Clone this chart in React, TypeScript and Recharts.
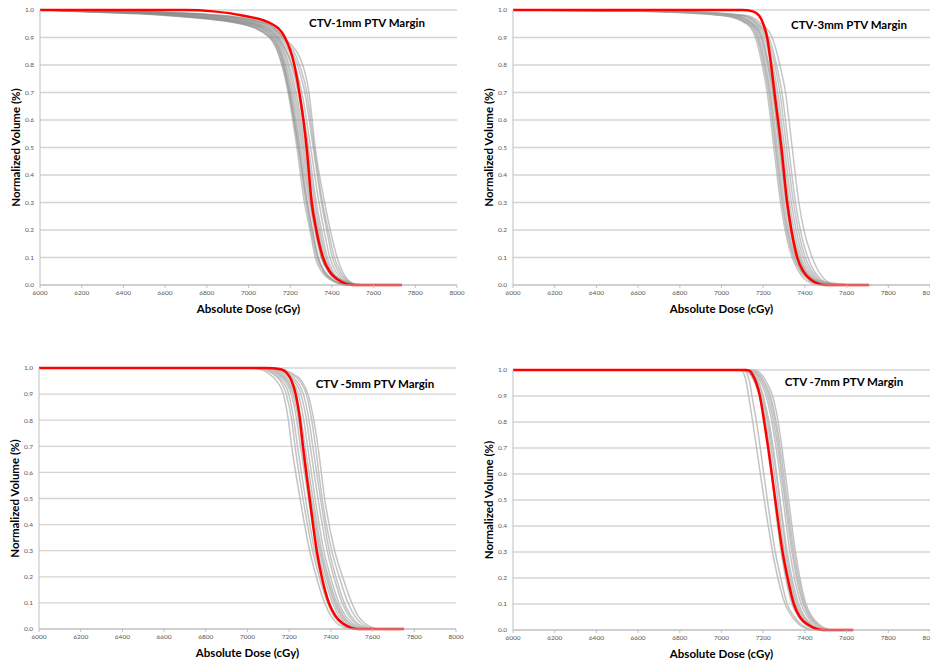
import { LineChart, Line, XAxis, YAxis, CartesianGrid } from "recharts";

// volume level of every point in a curve; each curve lists the dose (cGy) where it reaches that level
const VOLUME_LEVELS = [1, 1, 0.995, 0.98, 0.95, 0.9, 0.8, 0.7, 0.5, 0.3, 0.2, 0.1, 0.05, 0.02, 0.005, 0, 0];

const DOSE_TICKS = [6000, 6200, 6400, 6600, 6800, 7000, 7200, 7400, 7600, 7800, 8000];
const VOLUME_TICKS = [0, 0.1, 0.2, 0.3, 0.4, 0.5, 0.6, 0.7, 0.8, 0.9, 1.0];

const PANEL_TITLES = ["CTV-1mm PTV Margin", "CTV-3mm PTV Margin", "CTV -5mm PTV Margin", "CTV -7mm PTV Margin"];

// CTV-1mm
const ctv1Red = [6000, 6700, 6830, 6970, 7110, 7175, 7220, 7244, 7279, 7303, 7325, 7357, 7388, 7428, 7465, 7500, 7736];
const ctv1Gray = [
  [6000, 6010, 6150, 6600, 6960, 7100, 7160, 7190, 7232, 7268, 7295, 7320, 7350, 7390, 7430, 7470, 7520],
  [6000, 6010, 6200, 6650, 6990, 7115, 7170, 7200, 7245, 7283, 7308, 7335, 7365, 7405, 7445, 7480, 7530],
  [6000, 6010, 6250, 6700, 7010, 7125, 7180, 7212, 7258, 7298, 7322, 7350, 7380, 7418, 7455, 7490, 7540],
  [6000, 6010, 6300, 6750, 7030, 7135, 7195, 7228, 7272, 7310, 7335, 7362, 7392, 7428, 7465, 7500, 7550],
  [6000, 6010, 6350, 6800, 7050, 7145, 7210, 7245, 7288, 7325, 7350, 7378, 7405, 7440, 7475, 7505, 7560],
  [6000, 6010, 6400, 6850, 7080, 7160, 7235, 7270, 7310, 7350, 7375, 7402, 7430, 7460, 7490, 7515, 7570],
  [6000, 6010, 6450, 6880, 7095, 7170, 7260, 7290, 7320, 7365, 7392, 7425, 7450, 7475, 7500, 7525, 7580],
  [6000, 6010, 6220, 6680, 7000, 7118, 7175, 7205, 7250, 7292, 7318, 7348, 7385, 7440, 7510, 7560, 7600],
  [6000, 6010, 6180, 6640, 6975, 7108, 7168, 7196, 7240, 7280, 7305, 7333, 7362, 7400, 7440, 7475, 7525],
  [6000, 6010, 6320, 6780, 7040, 7140, 7205, 7238, 7280, 7318, 7342, 7370, 7398, 7432, 7468, 7500, 7555],
  [6000, 6010, 6380, 6820, 7065, 7152, 7222, 7256, 7298, 7338, 7362, 7390, 7418, 7450, 7482, 7510, 7565],
  [6000, 6010, 6270, 6720, 7020, 7130, 7188, 7220, 7265, 7304, 7330, 7358, 7388, 7425, 7460, 7495, 7545],
  [6000, 6010, 6160, 6620, 6965, 7104, 7163, 7194, 7238, 7276, 7300, 7328, 7358, 7398, 7438, 7472, 7522],
  [6000, 6010, 6420, 6860, 7085, 7165, 7245, 7280, 7315, 7355, 7382, 7412, 7440, 7468, 7495, 7520, 7575],
];

// CTV-3mm
const ctv3Red = [6000, 7100, 7150, 7180, 7200, 7219, 7238, 7254, 7287, 7315, 7335, 7363, 7392, 7427, 7465, 7495, 7707];
const ctv3Gray = [
  [6000, 6010, 6600, 7000, 7120, 7163, 7195, 7219, 7251, 7283, 7305, 7339, 7370, 7400, 7440, 7480, 7530],
  [6000, 6010, 6650, 7030, 7135, 7180, 7212, 7236, 7268, 7300, 7322, 7356, 7388, 7420, 7460, 7495, 7545],
  [6000, 6010, 6700, 7060, 7150, 7196, 7228, 7252, 7285, 7318, 7340, 7374, 7405, 7440, 7478, 7510, 7560],
  [6000, 6010, 6750, 7090, 7165, 7212, 7246, 7270, 7302, 7335, 7358, 7392, 7424, 7460, 7495, 7525, 7575],
  [6000, 6010, 6800, 7120, 7190, 7243, 7280, 7307, 7339, 7371, 7395, 7435, 7465, 7495, 7525, 7550, 7590],
  [6000, 6010, 6620, 7010, 7125, 7170, 7202, 7226, 7258, 7290, 7312, 7346, 7380, 7430, 7520, 7600, 7700],
  [6000, 6010, 6680, 7045, 7142, 7188, 7220, 7244, 7276, 7308, 7330, 7365, 7398, 7450, 7560, 7640, 7720],
  [6000, 6010, 6720, 7070, 7155, 7204, 7238, 7262, 7294, 7326, 7348, 7382, 7414, 7450, 7486, 7516, 7565],
  [6000, 6010, 6780, 7105, 7178, 7228, 7264, 7290, 7322, 7355, 7378, 7414, 7445, 7478, 7512, 7540, 7585],
  [6000, 6010, 6640, 7020, 7130, 7175, 7207, 7231, 7262, 7294, 7316, 7350, 7382, 7414, 7452, 7488, 7538],
  [6000, 6010, 6760, 7100, 7170, 7220, 7256, 7280, 7312, 7345, 7368, 7402, 7434, 7468, 7502, 7532, 7580],
  [6000, 6010, 6700, 7055, 7146, 7192, 7224, 7248, 7280, 7312, 7335, 7370, 7402, 7436, 7474, 7506, 7555],
];

// CTV-5mm
const ctv5Red = [6000, 7090, 7160, 7190, 7212, 7231, 7252, 7266, 7298, 7332, 7356, 7390, 7422, 7460, 7495, 7530, 7751];
const ctv5Gray = [
  [6000, 7000, 7060, 7100, 7140, 7172, 7196, 7212, 7252, 7298, 7330, 7370, 7400, 7432, 7470, 7500, 7560],
  [6000, 7012, 7078, 7118, 7158, 7186, 7212, 7228, 7266, 7312, 7344, 7384, 7414, 7448, 7485, 7514, 7572],
  [6000, 7020, 7085, 7125, 7168, 7198, 7222, 7240, 7278, 7322, 7354, 7394, 7424, 7458, 7494, 7524, 7580],
  [6000, 7034, 7098, 7138, 7180, 7210, 7236, 7254, 7292, 7336, 7368, 7408, 7438, 7472, 7508, 7538, 7592],
  [6000, 7040, 7105, 7145, 7188, 7218, 7245, 7263, 7301, 7345, 7377, 7417, 7448, 7482, 7518, 7548, 7600],
  [6000, 7052, 7118, 7158, 7200, 7232, 7258, 7276, 7314, 7356, 7388, 7428, 7460, 7494, 7530, 7560, 7612],
  [6000, 7062, 7126, 7168, 7212, 7244, 7270, 7288, 7324, 7366, 7398, 7438, 7470, 7506, 7542, 7572, 7625],
  [6000, 7072, 7136, 7180, 7224, 7256, 7283, 7301, 7338, 7382, 7414, 7454, 7486, 7520, 7555, 7585, 7640],
  [6000, 7080, 7145, 7190, 7235, 7268, 7295, 7313, 7350, 7392, 7424, 7464, 7496, 7530, 7566, 7596, 7650],
  [6000, 7092, 7158, 7202, 7250, 7282, 7308, 7326, 7358, 7404, 7440, 7482, 7514, 7548, 7582, 7612, 7662],
  [6000, 7100, 7165, 7212, 7260, 7290, 7318, 7338, 7370, 7418, 7456, 7500, 7530, 7565, 7600, 7630, 7680],
  [6000, 7045, 7110, 7150, 7192, 7224, 7250, 7268, 7306, 7350, 7382, 7422, 7454, 7490, 7528, 7558, 7610],
];

// CTV-7mm
const ctv7Red = [6000, 7120, 7138, 7150, 7167, 7184, 7205, 7224, 7258, 7293, 7317, 7347, 7376, 7416, 7455, 7490, 7632];
const ctv7Gray = [
  [6000, 7080, 7100, 7110, 7120, 7130, 7150, 7168, 7205, 7245, 7270, 7305, 7340, 7375, 7410, 7440, 7480],
  [6000, 7095, 7115, 7125, 7136, 7146, 7168, 7186, 7220, 7258, 7284, 7315, 7350, 7385, 7418, 7448, 7490],
  [6000, 7110, 7140, 7160, 7180, 7200, 7225, 7245, 7280, 7315, 7338, 7370, 7400, 7436, 7470, 7498, 7540],
  [6000, 7130, 7155, 7175, 7198, 7222, 7250, 7270, 7304, 7338, 7360, 7392, 7422, 7458, 7490, 7518, 7560],
  [6000, 7100, 7130, 7150, 7170, 7192, 7220, 7238, 7270, 7302, 7325, 7356, 7388, 7424, 7460, 7488, 7530],
  [6000, 7150, 7175, 7195, 7218, 7245, 7272, 7290, 7322, 7355, 7376, 7405, 7435, 7470, 7502, 7528, 7570],
  [6000, 7095, 7125, 7145, 7165, 7186, 7212, 7230, 7258, 7290, 7312, 7344, 7376, 7412, 7448, 7476, 7520],
  [6000, 7120, 7148, 7168, 7190, 7214, 7242, 7262, 7296, 7328, 7350, 7382, 7414, 7450, 7485, 7512, 7552],
  [6000, 7140, 7165, 7185, 7208, 7235, 7262, 7282, 7314, 7348, 7370, 7400, 7430, 7465, 7498, 7524, 7565],
  [6000, 7105, 7135, 7155, 7176, 7198, 7228, 7248, 7280, 7310, 7332, 7362, 7395, 7430, 7465, 7494, 7535],
  [6000, 7090, 7120, 7140, 7160, 7182, 7208, 7226, 7254, 7286, 7308, 7338, 7370, 7406, 7442, 7470, 7515],
  [6000, 7135, 7160, 7180, 7204, 7230, 7258, 7276, 7308, 7342, 7364, 7396, 7426, 7462, 7496, 7522, 7562],
];

const FONT = "Lato, 'Open Sans', sans-serif";

const toPoints = (doses: number[]) =>
  doses.map((dose, i) => ({ dose, volume: VOLUME_LEVELS[i] }));

interface PanelProps {
  title: string;
  red: number[];
  gray: number[][];
  grayColor: string;
  grayOpacity: number;
  plotLeft: number;
  plotTop: number;
  plotWidth: number;
  plotHeight: number;
  titleX: number;
  titleY: number;
}

function DvhPanel({
  title, red, gray, grayColor, grayOpacity,
  plotLeft, plotTop, plotWidth, plotHeight, titleX, titleY,
}: PanelProps) {
  const left = plotLeft - 40;
  const top = plotTop - 10;
  const width = plotWidth + 54;
  const height = plotHeight + 50;

  return (
    <div style={{ position: "absolute", left, top, width, height }}>
      <LineChart
        width={width}
        height={height}
        margin={{ top: 10, right: 14, left: 10, bottom: 10 }}
      >
        <CartesianGrid vertical={false} stroke="#d4d4d4" strokeWidth={1.3} />
        <XAxis
          type="number"
          dataKey="dose"
          domain={[6000, 8000]}
          ticks={DOSE_TICKS}
          allowDataOverflow
          height={30}
          tickSize={3}
          tickMargin={2}
          stroke="#bfbfbf"
          tick={{ fontSize: 6.5, fill: "#595959", fontFamily: FONT }}
          label={{
            value: "Absolute Dose (cGy)",
            position: "insideBottom",
            offset: 2,
            style: { fontSize: 11.5, fontWeight: 700, fill: "#000", fontFamily: FONT },
          }}
        />
        <YAxis
          type="number"
          dataKey="volume"
          domain={[0, 1]}
          ticks={VOLUME_TICKS}
          width={30}
          tickLine={false}
          tickSize={4}
          tickMargin={2}
          stroke="#bfbfbf"
          tickFormatter={(v: number) => v.toFixed(1)}
          tick={{ fontSize: 6.5, fill: "#595959", fontFamily: FONT }}
          label={{
            value: "Normalized Volume (%)",
            angle: -90,
            position: "insideLeft",
            offset: 6,
            style: { fontSize: 11.5, fontWeight: 700, fill: "#000", fontFamily: FONT, textAnchor: "middle" },
          }}
        />
        {gray.map((doses, i) => (
          <Line
            key={i}
            data={toPoints(doses)}
            dataKey="volume"
            type="monotone"
            stroke={grayColor}
            strokeOpacity={grayOpacity}
            strokeWidth={1.5}
            dot={false}
            activeDot={false}
            isAnimationActive={false}
          />
        ))}
        <Line
          data={toPoints(red)}
          dataKey="volume"
          type="monotone"
          stroke="#ff0000"
          strokeWidth={2.5}
          dot={false}
          activeDot={false}
          isAnimationActive={false}
        />
      </LineChart>
      <div
        style={{
          position: "absolute",
          left: titleX - left,
          top: titleY - top,
          transform: "translate(-50%, -50%)",
          whiteSpace: "nowrap",
          fontFamily: FONT,
          fontWeight: 700,
          fontSize: 11.5,
          color: "#000",
        }}
      >
        {title}
      </div>
    </div>
  );
}

export default function App() {
  return (
    <div
      style={{
        position: "fixed",
        left: 0,
        top: 0,
        width: 930,
        height: 664,
        overflow: "hidden",
        background: "#fff",
      }}
    >
      <DvhPanel title={PANEL_TITLES[0]} red={ctv1Red} gray={ctv1Gray} grayColor="#8c8c8c" grayOpacity={0.5}
        plotLeft={40} plotTop={10} plotWidth={417} plotHeight={275} titleX={367} titleY={22} />
      <DvhPanel title={PANEL_TITLES[1]} red={ctv3Red} gray={ctv3Gray} grayColor="#a0a0a0" grayOpacity={0.6}
        plotLeft={513} plotTop={10} plotWidth={417} plotHeight={275} titleX={849} titleY={24} />
      <DvhPanel title={PANEL_TITLES[2]} red={ctv5Red} gray={ctv5Gray} grayColor="#bdbdbd" grayOpacity={0.9}
        plotLeft={39} plotTop={368} plotWidth={417} plotHeight={261} titleX={375} titleY={383} />
      <DvhPanel title={PANEL_TITLES[3]} red={ctv7Red} gray={ctv7Gray} grayColor="#bdbdbd" grayOpacity={0.9}
        plotLeft={513} plotTop={370} plotWidth={417} plotHeight={260} titleX={844} titleY={381} />
    </div>
  );
}
